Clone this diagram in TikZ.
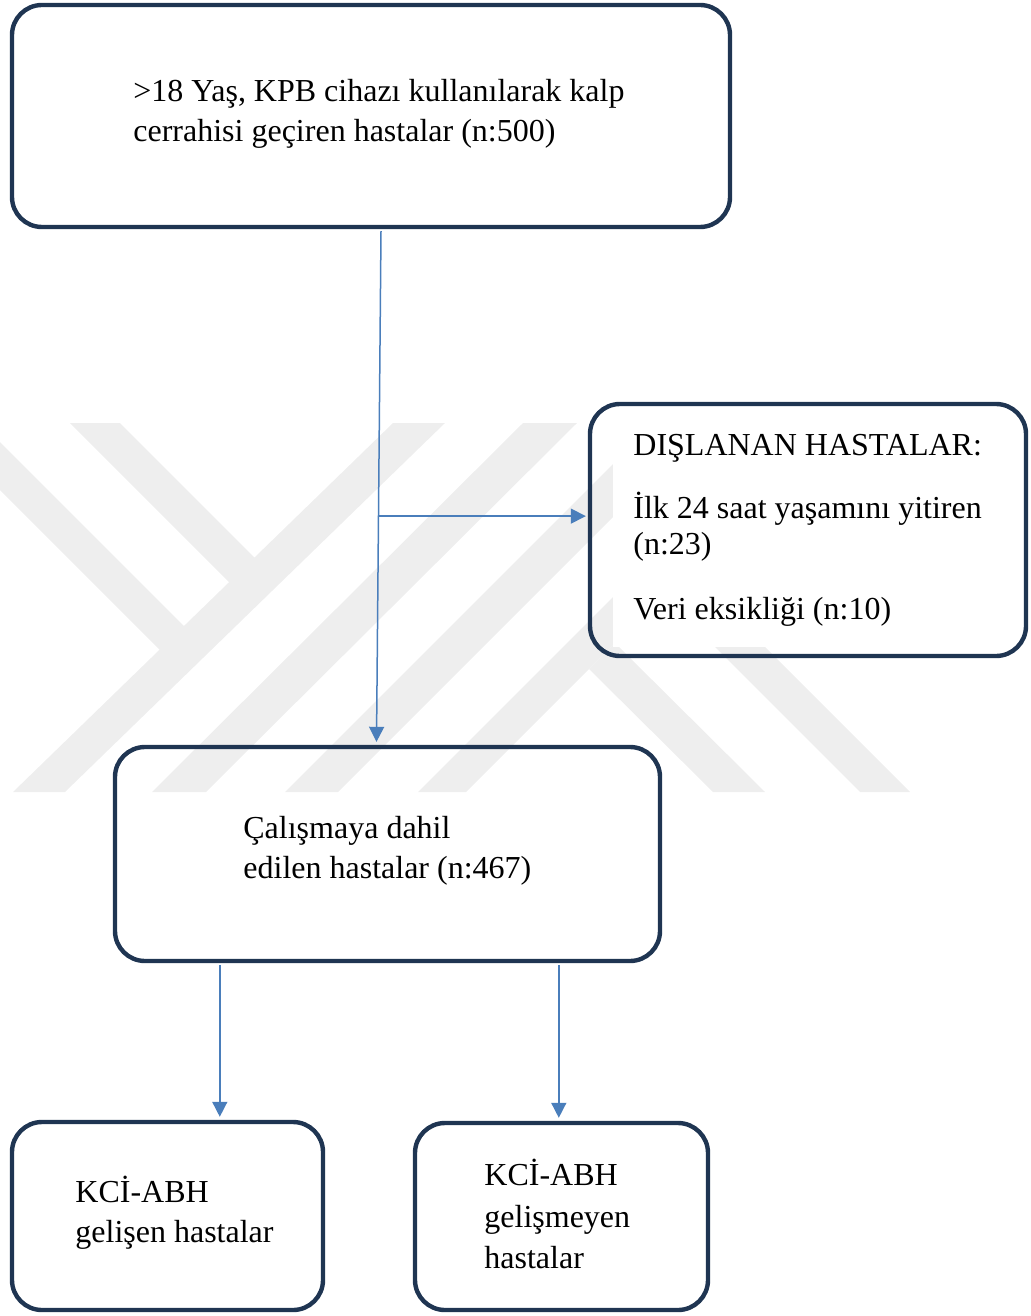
\documentclass[tikz,border=0pt]{standalone}
\usepackage{fontspec}
\setmainfont{Liberation Serif}
\usetikzlibrary{calc,arrows.meta}
\definecolor{navy}{HTML}{1F3552}
\definecolor{arrblue}{HTML}{4A7EBB}
\definecolor{wmark}{HTML}{EEEEEE}
\tikzset{
  box/.style={rectangle, rounded corners=15pt, draw=navy, line width=2.2pt, inner sep=0pt},
  arr/.style={draw=arrblue, line width=0.75pt, -{Triangle[length=7.5pt,width=7.5pt]}, arrblue},
  txt/.style={anchor=base west, inner sep=0pt, font=\fontsize{16}{19}\selectfont},
  wm/.style={fill=wmark, draw=none}
}
\begin{document}
\begin{tikzpicture}[x=0.5pt,y=-0.5pt]
\useasboundingbox (0,0) rectangle (1030,1316);
% watermark
\fill[wm] (0,442) -- (190,632) -- (170,660) -- (0,490) -- cycle;
\fill[wm] (70,423) -- (120,423) -- (280,583) -- (240,593) -- cycle;
\fill[wm] (393,423) -- (445,423) -- (65,792) -- (13,792) -- cycle;
\fill[wm] (523,423) -- (577,423) -- (206,792) -- (152,792) -- cycle;
\fill[wm] (654,423) -- (707,423) -- (338,792) -- (285,792) -- cycle;
\fill[wm] (787,423) -- (835,423) -- (466,792) -- (418,792) -- cycle;
\fill[wm] (589,669) -- (615,643) -- (765,792) -- (713,792) -- cycle;
\fill[wm] (668,600) -- (718,600) -- (910,792) -- (860,792) -- cycle;
\fill[white] (613,405) rectangle (1026,647);
% boxes
\node[box, minimum width=359pt, minimum height=111pt] (b1) at (371,116) {};
\node[box, minimum width=218pt, minimum height=126pt] (b2) at (808,530) {};
\node[box, minimum width=272.5pt, minimum height=107pt] (b3) at (387.5,854) {};
\node[box, minimum width=155.5pt, minimum height=94pt] (b4) at (167.5,1216) {};
\node[box, minimum width=146.5pt, minimum height=93.5pt] (b5) at (561.5,1216.5) {};
% texts
\node[txt] (t1a) at (133,102) {>18 Yaş, KPB cihazı kullanılarak kalp};
\node[txt] (t1b) at (133,142) {cerrahisi geçiren hastalar (n:500)};
\node[txt] (t2a) at (633,455) {DIŞLANAN HASTALAR:};
\node[txt] (t2b) at (633,518) {İlk 24 saat yaşamını yitiren};
\node[txt] (t2c) at (633,554) {(n:23)};
\node[txt] (t2d) at (633,619) {Veri eksikliği (n:10)};
\node[txt] (t3a) at (243,838) {Çalışmaya dahil};
\node[txt] (t3b) at (243,878) {edilen hastalar (n:467)};
\node[txt] (t4a) at (75,1202) {KCİ-ABH};
\node[txt] (t4b) at (75,1242) {gelişen hastalar};
\node[txt] (t5a) at (484,1185) {KCİ-ABH};
\node[txt] (t5b) at (484,1227) {gelişmeyen};
\node[txt] (t5c) at (484,1268) {hastalar};
% connectors
\coordinate (s1) at ($(b1.south)+(10,2)$);
\coordinate (e1) at ($(b3.north)+(-11,-3)$);
\draw[arr] (s1) -- (e1);
\coordinate (j) at ($(s1)!0.558!(e1)$);
\draw[arr] (j) -- ($(j -| b2.west)+(-2,0)$);
\coordinate (s4) at ($(b3.south west)+(107,2)$);
\draw[arr] (s4) -- ($(s4 |- b4.north)+(0,-3)$);
\coordinate (s5) at ($(b3.south west)+(446,2)$);
\draw[arr] (s5) -- ($(s5 |- b5.north)+(0,-3)$);
\end{tikzpicture}
\end{document}
